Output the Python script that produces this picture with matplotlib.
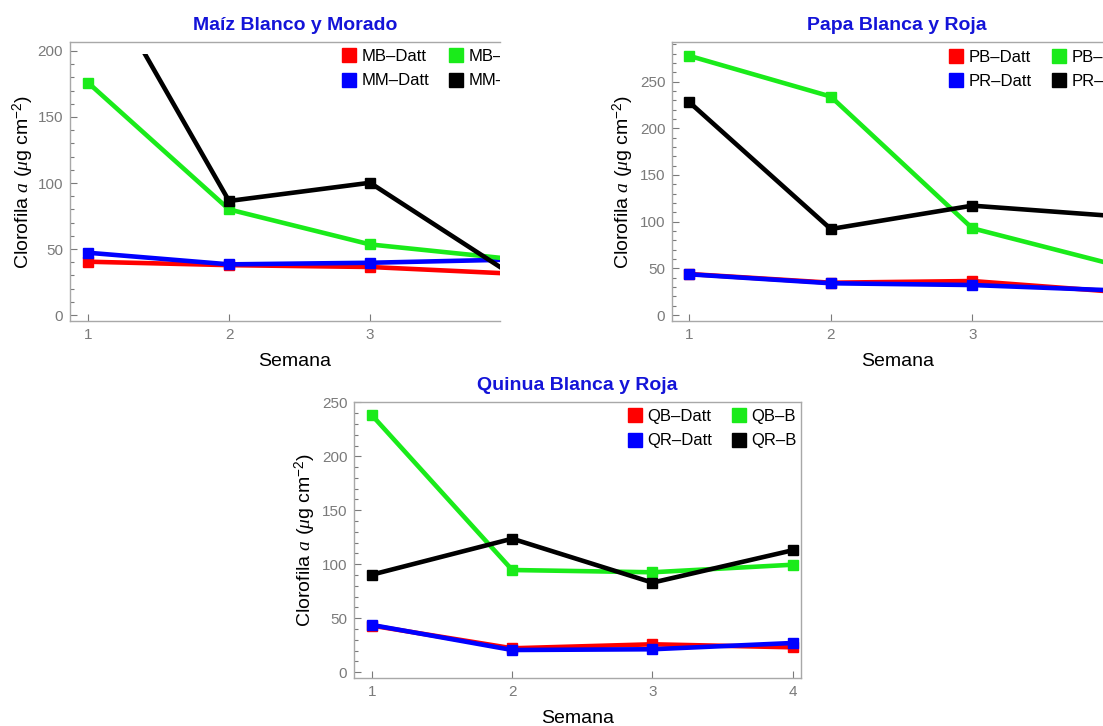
import matplotlib
matplotlib.use('Agg')
import matplotlib.pyplot as plt
from matplotlib.lines import Line2D
from matplotlib.patches import Rectangle
from matplotlib.ticker import MultipleLocator

plt.rcParams['font.family'] = ['Liberation Sans', 'DejaVu Sans']
plt.rcParams['mathtext.fontset'] = 'custom'
plt.rcParams['mathtext.rm'] = 'Liberation Sans'
plt.rcParams['mathtext.it'] = 'Liberation Serif:italic'

semanas = [1, 2, 3, 4]

# Maiz blanco (MB) y morado (MM)
mb_datt = [40.4, 37.8, 36.4, 31.4]
mm_datt = [47.2, 38.4, 39.6, 42.0]
mb_b = [176.0, 80.0, 53.5, 42.5]
mm_b = [273.0, 86.4, 100.2, 31.0]

# Papa blanca (PB) y roja (PR)
pb_datt = [43.9, 34.6, 36.4, 25.0]
pr_datt = [43.6, 34.0, 32.1, 26.4]
pb_b = [277.5, 233.9, 92.9, 54.0]
pr_b = [227.9, 92.1, 117.1, 106.0]

# Quinua blanca (QB) y roja (QR)
qb_datt = [43.2, 22.2, 25.9, 23.1]
qr_datt = [43.8, 20.6, 21.3, 27.1]
qb_b = [238.0, 94.7, 92.6, 99.6]
qr_b = [90.4, 123.7, 83.0, 113.0]

colores = ['#ff0000', '#0000ff', '#1aeb1a', '#000000']
ylabel = r'Clorofila $a$ ($\mu$g cm$^{-2}$)'
frame = '#a8a8a8'
gris = '#7a7a7a'
azul = '#1414d8'

paneles = [
    dict(titulo='Maíz Blanco y Morado',
         series=[mb_datt, mm_datt, mb_b, mm_b],
         nombres=['MB\u2013Datt', 'MM\u2013Datt', 'MB\u2013B', 'MM\u2013B'],
         rect=[70 / 1103, 1 - 321 / 726, 430 / 1103, 279 / 726],
         xlim=(0.872, 3.922), ylim=(-4.5, 206.8), rango=198,
         cx=0.523, ylx=-0.079, leg=(0.634, 0.974), recorte=True),
    dict(titulo='Papa Blanca y Roja',
         series=[pb_datt, pr_datt, pb_b, pr_b],
         nombres=['PB\u2013Datt', 'PR\u2013Datt', 'PB\u2013B', 'PR\u2013B'],
         rect=[672.3 / 1103, 1 - 321 / 726, 430.7 / 1103, 278.7 / 726],
         xlim=(0.880, 3.924), ylim=(-6.4, 292), rango=None,
         cx=0.522, ylx=-0.084, leg=(0.644, 0.974), recorte=True),
    dict(titulo='Quinua Blanca y Roja',
         series=[qb_datt, qr_datt, qb_b, qr_b],
         nombres=['QB\u2013Datt', 'QR\u2013Datt', 'QB\u2013B', 'QR\u2013B'],
         rect=[354.3 / 1103, 1 - 678.3 / 726, 446.7 / 1103, 276.3 / 726],
         xlim=(0.874, 4.059), ylim=(-5.6, 250.3), rango=None,
         cx=0.5, ylx=-0.081, leg=(0.613, 0.974), recorte=False),
]

fig = plt.figure(figsize=(11.03, 7.26), dpi=100)

for p in paneles:
    ax = fig.add_axes(p['rect'])
    x0, x1 = p['xlim']
    for vals, c in zip(p['series'], colores):
        ln, = ax.plot(semanas, vals, color=c, lw=3.3, marker='s', ms=6.5,
                      solid_joinstyle='miter')
        if p['rango'] is not None:
            # the source plot clips lines at its plot range, below the frame top
            clip = Rectangle((x0, p['ylim'][0]), x1 - x0, p['rango'] - p['ylim'][0],
                             transform=ax.transData)
            ln.set_clip_path(clip)
    ax.set_xticks(semanas)
    ax.yaxis.set_major_locator(MultipleLocator(50))
    ax.yaxis.set_minor_locator(MultipleLocator(10))
    ax.set_xlim(x0, x1)
    ax.set_ylim(*p['ylim'])
    ax.tick_params(direction='in', colors=gris, labelsize=11, length=5, width=0.8,
                   pad=5, top=False, right=False)
    ax.tick_params(axis='y', which='minor', direction='in', color=gris, length=3, width=0.8)
    for s in ax.spines.values():
        s.set_color(frame)
        s.set_linewidth(1.0)
    if p['recorte']:
        ax.spines['right'].set_visible(False)
    ax.set_title(p['titulo'], x=p['cx'], color=azul, fontsize=14,
                 fontweight='bold', pad=9)
    ax.set_xlabel('Semana', fontsize=14, color='black')
    ax.xaxis.set_label_coords(p['cx'], -0.115)
    ax.set_ylabel(ylabel, fontsize=14, color='black')
    ax.yaxis.set_label_coords(p['ylx'], 0.5)

    handles = [Line2D([], [], ls='none', marker='s', ms=9.5, color=c, mec=c)
               for c in colores]
    leg = ax.legend(handles, p['nombres'], loc='upper left', bbox_to_anchor=p['leg'],
                    ncol=2, frameon=False, fontsize=12, borderpad=0,
                    handlelength=0.8, handletextpad=0.35, labelspacing=0.55,
                    columnspacing=1.2, borderaxespad=0)
    if p['recorte']:
        for a in leg.get_texts() + list(leg.legend_handles):
            a.set_clip_box(ax.bbox)
            a.set_clip_on(True)

fig.savefig('out.png', dpi=100)
